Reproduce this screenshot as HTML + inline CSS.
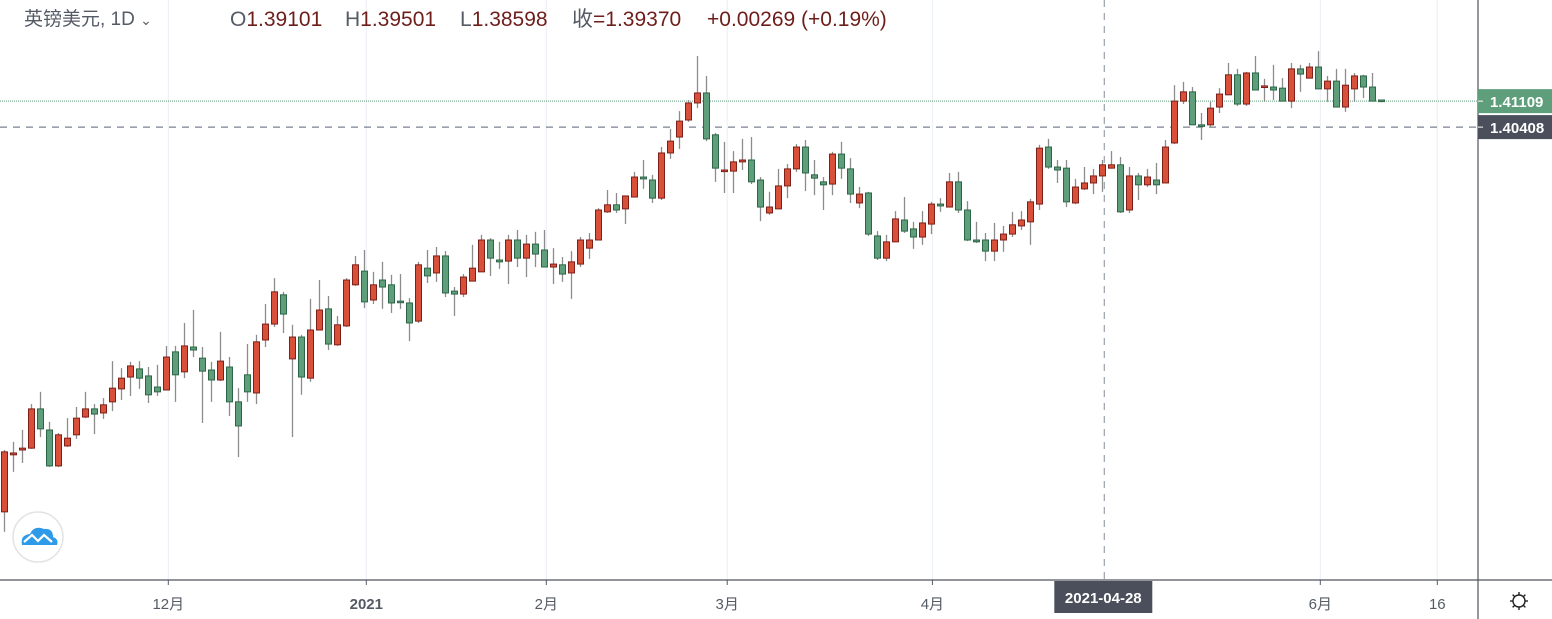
<!DOCTYPE html>
<html><head><meta charset="utf-8">
<style>
html,body{margin:0;padding:0;background:#fff;}
body{width:1552px;height:619px;overflow:hidden;position:relative;font-family:"Liberation Sans","Noto Sans CJK SC",sans-serif;}
.h{position:absolute;top:8px;height:24px;line-height:24px;font-size:21px;color:#555b66;white-space:nowrap;}
.h .v{color:#6e1e1a;}
</style></head>
<body>
<svg id="chart" width="1552" height="619" style="position:absolute;left:0;top:0" xmlns="http://www.w3.org/2000/svg"></svg>
<div class="h" style="left:24px;font-size:19px;">英镑美元, 1D <span style="font-size:14px;">&#8964;</span></div>
<div class="h" style="left:230px">O<span class="v">1.39101</span></div>
<div class="h" style="left:345px">H<span class="v">1.39501</span></div>
<div class="h" style="left:460px">L<span class="v">1.38598</span></div>
<div class="h" style="left:572px">收<span class="v">=1.39370</span></div>
<div class="h" style="left:707px"><span class="v">+0.00269 (+0.19%)</span></div>
<script>
const opens=[1.3002,1.3156,1.3169,1.3174,1.3280,1.3223,1.3126,1.3180,1.3210,1.3258,1.3280,1.3269,1.3299,1.3334,1.3366,1.3388,1.3369,1.3339,1.3331,1.3434,1.3380,1.3447,1.3417,1.3385,1.3358,1.3393,1.3299,1.3372,1.3323,1.3466,1.3509,1.3588,1.3415,1.3474,1.3363,1.3493,1.3550,1.3453,1.3504,1.3615,1.3652,1.3574,1.3628,1.3615,1.3571,1.3566,1.3517,1.3660,1.3647,1.3693,1.3598,1.3590,1.3625,1.3650,1.3736,1.3682,1.3679,1.3736,1.3687,1.3725,1.3709,1.3663,1.3669,1.3647,1.3671,1.3714,1.3736,1.3812,1.3831,1.3820,1.3852,1.3906,1.3898,1.3849,1.3971,1.4014,1.4060,1.4106,1.4133,1.4020,1.3922,1.3922,1.3947,1.3952,1.3898,1.3809,1.3820,1.3882,1.3928,1.3987,1.3912,1.3893,1.3887,1.3968,1.3928,1.3836,1.3863,1.3747,1.3687,1.3731,1.3790,1.3766,1.3744,1.3779,1.3833,1.3825,1.3893,1.3817,1.3736,1.3736,1.3706,1.3736,1.3752,1.3774,1.3785,1.3833,1.3987,1.3933,1.3930,1.3836,1.3874,1.3890,1.3909,1.3930,1.3939,1.3817,1.3909,1.3885,1.3898,1.3890,1.3998,1.4111,1.4136,1.4047,1.4047,1.4095,1.4128,1.4182,1.4103,1.4187,1.4150,1.4149,1.4146,1.4111,1.4198,1.4173,1.4203,1.4144,1.4165,1.4095,1.4144,1.4179,1.4149,1.4114];
const highs=[1.3169,1.3191,1.3223,1.3293,1.3326,1.3245,1.3215,1.3255,1.3285,1.3326,1.3293,1.3309,1.3409,1.3390,1.3407,1.3409,1.3393,1.3399,1.3450,1.3450,1.3512,1.3547,1.3447,1.3407,1.3488,1.3420,1.3336,1.3455,1.3480,1.3563,1.3633,1.3596,1.3507,1.3480,1.3577,1.3628,1.3585,1.3531,1.3633,1.3693,1.3709,1.3650,1.3677,1.3642,1.3644,1.3579,1.3677,1.3709,1.3717,1.3706,1.3609,1.3644,1.3723,1.3750,1.3741,1.3731,1.3750,1.3763,1.3750,1.3758,1.3763,1.3714,1.3690,1.3706,1.3744,1.3755,1.3822,1.3871,1.3863,1.3856,1.3920,1.3952,1.3912,1.3987,1.4036,1.4084,1.4114,1.4233,1.4179,1.4025,1.4001,1.3976,1.4009,1.4014,1.3906,1.3866,1.3928,1.3941,1.3995,1.4006,1.3952,1.3906,1.3974,1.4001,1.3957,1.3879,1.3866,1.3760,1.3750,1.3814,1.3852,1.3785,1.3814,1.3839,1.3849,1.3917,1.3920,1.3841,1.3785,1.3755,1.3782,1.3774,1.3812,1.3814,1.3847,1.3993,1.4009,1.3952,1.3952,1.3901,1.3933,1.3928,1.3952,1.3976,1.3960,1.3933,1.3917,1.3928,1.3944,1.4006,1.4154,1.4163,1.4149,1.4079,1.4109,1.4146,1.4214,1.4198,1.4190,1.4233,1.4171,1.4209,1.4173,1.4214,1.4209,1.4214,1.4246,1.4179,1.4198,1.4198,1.4187,1.4182,1.4187,1.4114];
const lows=[1.2948,1.3110,1.3134,1.3172,1.3204,1.3123,1.3123,1.3177,1.3199,1.3255,1.3212,1.3253,1.3274,1.3304,1.3315,1.3334,1.3296,1.3315,1.3330,1.3299,1.3363,1.3420,1.3242,1.3299,1.3355,1.3261,1.3150,1.3299,1.3293,1.3447,1.3501,1.3485,1.3204,1.3318,1.3353,1.3492,1.3439,1.3450,1.3501,1.3612,1.3552,1.3563,1.3550,1.3539,1.3550,1.3463,1.3512,1.3620,1.3623,1.3582,1.3531,1.3582,1.3624,1.3649,1.3639,1.3658,1.3617,1.3663,1.3636,1.3663,1.3662,1.3617,1.3623,1.3577,1.3663,1.3685,1.3735,1.3809,1.3809,1.3779,1.3851,1.3874,1.3836,1.3844,1.3955,1.3982,1.4055,1.4092,1.4003,1.3893,1.3863,1.3863,1.3925,1.3887,1.3787,1.3804,1.3819,1.3849,1.3920,1.3868,1.3857,1.3817,1.3857,1.3901,1.3836,1.3822,1.3747,1.3682,1.3679,1.3730,1.3755,1.3712,1.3723,1.3752,1.3812,1.3824,1.3809,1.3733,1.3728,1.3679,1.3679,1.3704,1.3744,1.3763,1.3723,1.3817,1.3928,1.3890,1.3825,1.3833,1.3871,1.3860,1.3866,1.3929,1.3809,1.3809,1.3844,1.3879,1.3860,1.3889,1.3995,1.4103,1.4046,1.4006,1.4041,1.4079,1.4127,1.4098,1.4098,1.4140,1.4109,1.4114,1.4110,1.4092,1.4136,1.4172,1.4143,1.4109,1.4094,1.4082,1.4109,1.4119,1.4110,1.4108];
const closes=[1.3164,1.3161,1.3174,1.3280,1.3226,1.3126,1.3210,1.3201,1.3255,1.3280,1.3266,1.3291,1.3336,1.3363,1.3396,1.3363,1.3318,1.3326,1.3420,1.3372,1.3450,1.3439,1.3382,1.3358,1.3409,1.3299,1.3234,1.3326,1.3461,1.3509,1.3596,1.3536,1.3474,1.3366,1.3493,1.3547,1.3455,1.3507,1.3628,1.3669,1.3569,1.3615,1.3609,1.3566,1.3569,1.3512,1.3669,1.3639,1.3693,1.3593,1.3590,1.3636,1.3660,1.3736,1.3687,1.3677,1.3736,1.3687,1.3725,1.3698,1.3663,1.3671,1.3644,1.3677,1.3736,1.3736,1.3817,1.3831,1.3817,1.3855,1.3906,1.3901,1.3849,1.3971,1.4003,1.4057,1.4106,1.4133,1.4009,1.3930,1.3925,1.3947,1.3952,1.3893,1.3825,1.3825,1.3882,1.3928,1.3987,1.3917,1.3903,1.3885,1.3968,1.3930,1.3860,1.3860,1.3752,1.3687,1.3731,1.3793,1.3760,1.3744,1.3782,1.3833,1.3828,1.3893,1.3817,1.3736,1.3731,1.3706,1.3736,1.3752,1.3777,1.3790,1.3839,1.3984,1.3933,1.3925,1.3839,1.3879,1.3890,1.3909,1.3939,1.3939,1.3812,1.3909,1.3885,1.3906,1.3885,1.3987,1.4111,1.4136,1.4047,1.4046,1.4092,1.4130,1.4182,1.4103,1.4187,1.4141,1.4152,1.4141,1.4111,1.4198,1.4184,1.4203,1.4144,1.4165,1.4095,1.4154,1.4179,1.4149,1.4111,1.4111];
const tickLabels=["12月","2021","2月","3月","4月","6月","16"];
const tickIndex=[18.2,40.2,60.2,80.3,103.1,146.2,159.2];
const lastPrice=1.41109;
const markPrice=1.40408;
const crossIndex=122.2;
const crossLabel="2021-04-28";

const NS="http://www.w3.org/2000/svg";
const svg=document.getElementById('chart');
const PLOT_R=1478, AXIS_Y=580;
function xOf(i){return 4.5+9*i;}
function yOf(p){return (1.4384-p)/0.00027;}
function mk(tag,attrs,parent){const e=document.createElementNS(NS,tag);for(const k in attrs)e.setAttribute(k,attrs[k]);(parent||svg).appendChild(e);return e;}

tickIndex.forEach((ti,k)=>{
  const x=xOf(ti);
  const g=mk('line',{x1:x,y1:0,x2:x,y2:AXIS_Y,stroke:'#e9eef3','stroke-width':1});
  
  
  const tk=mk('line',{x1:x,y1:AXIS_Y,x2:x,y2:AXIS_Y+5,stroke:'#555b66','stroke-width':1});
  
  
  const t=mk('text',{x:x,y:609,'text-anchor':'middle','font-size':15,fill:'#555b66','font-weight':tickLabels[k]==='2021'?'bold':'normal','font-family':'"Liberation Sans","Noto Sans CJK SC",sans-serif'});
  t.textContent=tickLabels[k];
  
  
});

const ly=yOf(lastPrice), my=yOf(markPrice);
const lp=mk('line',{x1:0,y1:ly,x2:PLOT_R,y2:ly,stroke:'#5e9e7a','stroke-width':1,'stroke-dasharray':'1 1'});


const mp=mk('line',{x1:0,y1:my,x2:PLOT_R,y2:my,stroke:'#7a8290','stroke-width':1.2,'stroke-dasharray':'7 6'});


const cx=xOf(crossIndex);
const cv=mk('line',{x1:cx,y1:0,x2:cx,y2:AXIS_Y,stroke:'#9aa1ab','stroke-width':1.2,'stroke-dasharray':'7 6'});



for(let i=0;i<opens.length;i++){
  const x=xOf(i), o=opens[i], c=closes[i];
  const up=c>=o;
  const g=mk('g',{});
  
  
  mk('line',{x1:x,y1:yOf(highs[i]),x2:x,y2:yOf(lows[i]),stroke:'#8c8c8c','stroke-width':1.3},g);
  const top=yOf(Math.max(o,c)), bot=yOf(Math.min(o,c));
  const h=Math.max(bot-top,1.6);
  mk('rect',{x:x-3,y:top,width:6,height:h,fill:up?'#d9503a':'#5e9e7a',stroke:up?'#7e1f18':'#2d6647','stroke-width':1},g);
}

const ax=mk('line',{x1:0,y1:AXIS_Y,x2:1552,y2:AXIS_Y,stroke:'#50535e','stroke-width':1.2});


const ay=mk('line',{x1:PLOT_R,y1:0,x2:PLOT_R,y2:619,stroke:'#50535e','stroke-width':1.2});



function priceTag(p,bg,name){
  const y=yOf(p);
  const r=mk('rect',{x:PLOT_R,y:y-12,width:74,height:24,fill:bg});
  
  
  mk('line',{x1:PLOT_R,y1:y,x2:PLOT_R+5,y2:y,stroke:'#fff','stroke-width':1});
  const t=mk('text',{x:PLOT_R+12,y:y+6,'font-size':15,fill:'#fff','font-weight':'bold','font-family':'"Liberation Sans",sans-serif'});
  t.textContent=p.toFixed(5);
  
  
}
priceTag(lastPrice,'#5e9e7a','last-price-label');
priceTag(markPrice,'#4a4f5b','crosshair-price-label');

const db=mk('rect',{x:cx-50,y:AXIS_Y+1,width:98,height:32,fill:'#4a4f5b'});


const dt=mk('text',{x:cx-1,y:603,'text-anchor':'middle','font-size':15,fill:'#fff','font-weight':'bold','font-family':'"Liberation Sans",sans-serif'});
dt.textContent=crossLabel;



const gear=mk('g',{stroke:'#222',fill:'none','stroke-width':1.4});


mk('circle',{cx:1519,cy:601,r:6},gear);
for(let a=0;a<8;a++){const an=a*Math.PI/4;mk('line',{x1:1519+Math.cos(an)*6,y1:601+Math.sin(an)*6,x2:1519+Math.cos(an)*9,y2:601+Math.sin(an)*9},gear);}

const logo=mk('g',{});


mk('circle',{cx:38,cy:537,r:25,fill:'#fff',stroke:'#e3e3e3','stroke-width':1.5},logo);
mk('path',{d:'M22 545 q-2 -10 8 -11 q4 -9 14 -5 q9 -1 9 8 q6 2 4 8 z',fill:'#2f9be8'},logo);
mk('path',{d:'M24 542 l8 -7 l6 6 l6 -6 l8 7',stroke:'#fff','stroke-width':2.2,fill:'none'},logo);
</script>
</body></html>
